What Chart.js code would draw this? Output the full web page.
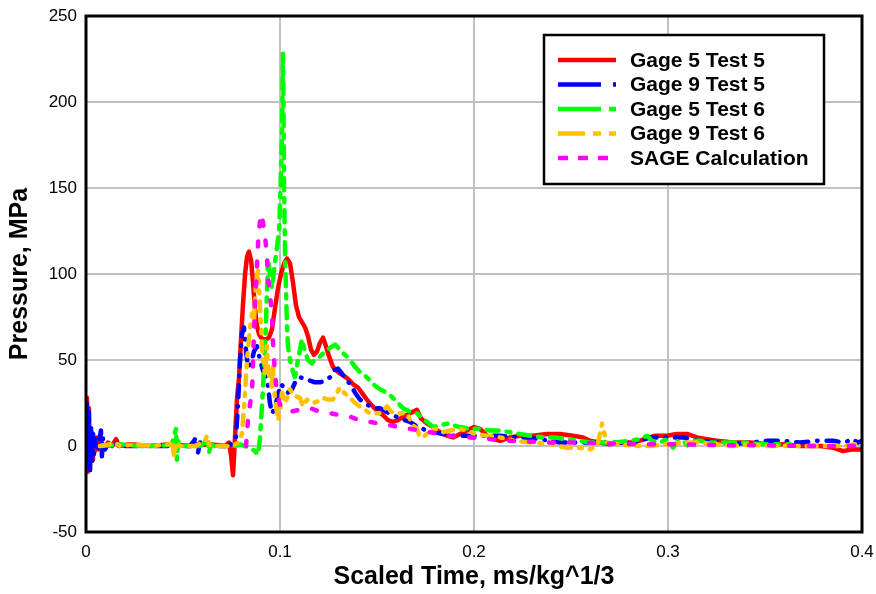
<!DOCTYPE html>
<html>
<head>
<meta charset="utf-8">
<script src="https://cdn.jsdelivr.net/npm/chart.js@4/dist/chart.umd.min.js"></script>
<style>
  html, body { margin: 0; padding: 0; background: #fff; }
  #c { display: block; }
</style>
</head>
<body>
<canvas id="c" width="876" height="594"></canvas>
<script>
// ---- Data (scaled time [ms/kg^1/3], pressure [MPa]) ----
const seriesLabels = ['Gage 5 Test 5', 'Gage 9 Test 5', 'Gage 5 Test 6', 'Gage 9 Test 6', 'SAGE Calculation'];
const xTickLabels = ['0', '0.1', '0.2', '0.3', '0.4'];
const yTickLabels = ['-50', '0', '50', '100', '150', '200', '250'];

const gage5Test5 = [
  [0.0003,0],[0.0005,28],[0.0010,-15],[0.0015,22],[0.0021,-12],[0.0026,10],[0.0031,-8],[0.0036,6],[0.0046,-3],
  [0.0057,5],[0.0067,-2],[0.0077,3],[0.0093,-1],[0.0113,2],[0.0134,0],[0.0155,4],[0.0170,0],[0.0227,1],[0.0330,0],
  [0.0433,1],[0.0536,0],[0.0639,1],[0.0716,0],[0.0737,2],[0.0747,-5],[0.0758,-17],[0.0768,5],[0.0778,27],[0.0789,40],
  [0.0799,62],[0.0809,82],[0.0820,100],[0.0830,110],[0.0840,113],[0.0851,108],[0.0861,95],[0.0871,80],[0.0881,70],
  [0.0892,65],[0.0902,63],[0.0912,62],[0.0928,62],[0.0943,63],[0.0959,68],[0.0974,80],[0.0990,92],[0.1005,100],
  [0.1021,106],[0.1036,109],[0.1052,106],[0.1067,95],[0.1082,82],[0.1098,75],[0.1113,72],[0.1129,69],[0.1144,64],
  [0.1160,56],[0.1175,53],[0.1191,55],[0.1206,60],[0.1222,63],[0.1237,58],[0.1253,52],[0.1273,46],[0.1299,43],
  [0.1325,41],[0.1351,39],[0.1376,36],[0.1402,34],[0.1428,30],[0.1454,26],[0.1479,23],[0.1505,20],[0.1531,18],
  [0.1557,15],[0.1582,14],[0.1608,15],[0.1634,17],[0.1670,19],[0.1706,21],[0.1727,16],[0.1758,13],[0.1789,11],
  [0.1825,8],[0.1861,6],[0.1892,5],[0.1928,7],[0.1964,9],[0.2000,11],[0.2031,10],[0.2067,6],[0.2098,4],[0.2134,3],
  [0.2186,5],[0.2237,6],[0.2304,6],[0.2376,7],[0.2443,7],[0.2510,6],[0.2562,5],[0.2598,3],[0.2649,2],[0.2701,1],
  [0.2753,2],[0.2820,2],[0.2881,4],[0.2933,6],[0.2995,6],[0.3046,7],[0.3098,7],[0.3149,5],[0.3201,4],[0.3253,3],
  [0.3335,2],[0.3423,2],[0.3510,1],[0.3593,1],[0.3680,0],[0.3784,0],[0.3851,-1],[0.3902,-3],[0.3948,-2],[0.3995,-2]
];

const gage9Test5 = [
  [0.0003,0],[0.0005,25],[0.0010,-13],[0.0015,20],[0.0021,-14],[0.0026,12],[0.0031,-9],[0.0036,8],[0.0041,-5],
  [0.0046,4],[0.0057,-3],[0.0067,2],[0.0077,9],[0.0082,-6],[0.0088,5],[0.0098,-2],[0.0113,1],[0.0134,0],[0.0149,2],
  [0.0175,0],[0.0330,0],[0.0536,0],[0.0557,3],[0.0567,5],[0.0577,-4],[0.0588,2],[0.0603,0],[0.0716,0],[0.0747,1],
  [0.0773,5],[0.0784,25],[0.0794,50],[0.0804,65],[0.0814,69],[0.0825,55],[0.0835,46],[0.0851,48],[0.0866,55],
  [0.0881,58],[0.0897,50],[0.0912,44],[0.0928,40],[0.0938,35],[0.0948,25],[0.0959,19],[0.0974,22],[0.0990,30],
  [0.1005,36],[0.1021,34],[0.1041,31],[0.1062,33],[0.1082,38],[0.1103,40],[0.1129,39],[0.1155,38],[0.1180,37],
  [0.1206,37],[0.1232,38],[0.1258,40],[0.1278,44],[0.1299,45],[0.1320,42],[0.1340,39],[0.1361,36],[0.1387,31],
  [0.1412,27],[0.1438,25],[0.1464,23],[0.1490,22],[0.1515,22],[0.1546,20],[0.1582,18],[0.1619,16],[0.1670,14],
  [0.1711,11],[0.1758,9],[0.1799,8],[0.1840,7],[0.1876,6],[0.1954,6],[0.2031,6],[0.2134,6],[0.2237,5],[0.2340,4],
  [0.2443,2],[0.2546,2],[0.2649,2],[0.2753,2],[0.2820,2],[0.2907,5],[0.2995,5],[0.3077,5],[0.3165,3],[0.3253,2],
  [0.3335,1],[0.3423,2],[0.3510,3],[0.3593,3],[0.3680,2],[0.3768,3],[0.3851,3],[0.3912,2],[0.3948,4],[0.3979,2],
  [0.4000,3]
];

const gage5Test6 = [
  [0.0072,0],[0.0175,1],[0.0278,0],[0.0381,0],[0.0443,1],[0.0454,6],[0.0464,10],[0.0469,-8],[0.0474,3],[0.0485,0],
  [0.0588,0],[0.0613,2],[0.0624,5],[0.0634,-4],[0.0644,1],[0.0665,0],[0.0768,0],[0.0794,1],[0.0820,0],[0.0845,-1],
  [0.0871,-3],[0.0887,-5],[0.0897,5],[0.0907,23],[0.0918,45],[0.0928,73],[0.0938,108],[0.0948,100],[0.0959,92],
  [0.0969,102],[0.0985,116],[0.0995,125],[0.1000,140],[0.1005,160],[0.1010,180],[0.1013,205],[0.1015,228],
  [0.1018,200],[0.1021,150],[0.1026,112],[0.1031,90],[0.1036,70],[0.1041,58],[0.1052,50],[0.1062,45],[0.1077,40],
  [0.1093,50],[0.1113,62],[0.1129,55],[0.1144,50],[0.1165,48],[0.1186,51],[0.1206,52],[0.1232,55],[0.1258,57],
  [0.1284,59],[0.1309,56],[0.1335,53],[0.1361,50],[0.1387,46],[0.1412,43],[0.1438,41],[0.1464,38],[0.1490,35],
  [0.1515,33],[0.1552,31],[0.1582,28],[0.1608,25],[0.1634,22],[0.1670,20],[0.1706,19],[0.1747,15],[0.1789,11],
  [0.1825,12],[0.1861,13],[0.1892,12],[0.1928,11],[0.1979,10],[0.2031,10],[0.2082,9],[0.2134,9],[0.2186,8],
  [0.2237,7],[0.2289,6],[0.2356,5],[0.2418,5],[0.2479,4],[0.2546,3],[0.2598,2],[0.2649,2],[0.2727,2],[0.2804,3],
  [0.2856,4],[0.2892,6],[0.2918,3],[0.2959,2],[0.2995,4],[0.3026,-1],[0.3052,3],[0.3077,3],[0.3113,-1],[0.3139,3],
  [0.3165,3],[0.3216,2],[0.3268,2],[0.3335,2],[0.3397,2],[0.3474,1],[0.3552,1],[0.3629,1]
];

const gage9Test6 = [
  [0.0072,0],[0.0124,1],[0.0149,2],[0.0175,0],[0.0253,1],[0.0330,0],[0.0433,1],[0.0443,3],[0.0454,-6],[0.0464,2],
  [0.0485,0],[0.0562,0],[0.0613,3],[0.0624,6],[0.0634,1],[0.0649,0],[0.0716,0],[0.0753,0],[0.0784,2],[0.0804,7],
  [0.0820,31],[0.0830,50],[0.0845,68],[0.0856,77],[0.0866,73],[0.0876,95],[0.0887,102],[0.0897,81],[0.0907,58],
  [0.0912,50],[0.0923,42],[0.0933,58],[0.0938,46],[0.0948,38],[0.0959,34],[0.0964,46],[0.0974,27],[0.0990,15],
  [0.1000,20],[0.1010,31],[0.1026,25],[0.1041,29],[0.1052,33],[0.1067,30],[0.1082,29],[0.1103,28],[0.1119,23],
  [0.1139,27],[0.1170,25],[0.1196,26],[0.1222,28],[0.1247,27],[0.1273,27],[0.1294,31],[0.1309,34],[0.1330,31],
  [0.1361,28],[0.1387,25],[0.1412,23],[0.1438,21],[0.1464,19],[0.1490,19],[0.1515,19],[0.1536,21],[0.1552,23],
  [0.1572,20],[0.1593,19],[0.1619,19],[0.1655,19],[0.1686,12],[0.1706,10],[0.1722,5],[0.1747,6],[0.1773,9],
  [0.1809,10],[0.1840,8],[0.1876,9],[0.1928,10],[0.1964,9],[0.2005,7],[0.2067,6],[0.2134,5],[0.2211,3],[0.2304,2],
  [0.2392,1],[0.2479,-1],[0.2546,-1],[0.2598,-2],[0.2634,0],[0.2649,7],[0.2660,13],[0.2670,8],[0.2686,2],[0.2753,1],
  [0.2820,0],[0.2907,0],[0.2995,1],[0.3077,2],[0.3165,2],[0.3253,1],[0.3335,0],[0.3423,1],[0.3510,0],[0.3593,0],
  [0.3680,0],[0.3768,0],[0.3851,0],[0.3912,0],[0.3964,1]
];

const sageCalculation = [
  [0.0825,0],[0.0835,15],[0.0845,24],[0.0856,31],[0.0861,50],[0.0871,81],[0.0881,104],[0.0887,118],[0.0897,131],
  [0.0905,135],[0.0912,130],[0.0923,122],[0.0933,110],[0.0938,98],[0.0948,89],[0.0959,75],[0.0964,60],[0.0974,42],
  [0.0985,31],[0.1000,24],[0.1026,21],[0.1052,20],[0.1103,21],[0.1155,22],[0.1206,20],[0.1258,19],[0.1309,18],
  [0.1361,17],[0.1412,15],[0.1464,14],[0.1515,13],[0.1567,12],[0.1619,11],[0.1670,10],[0.1722,9],[0.1773,8],
  [0.1876,6],[0.1979,5],[0.2082,4],[0.2186,3],[0.2289,2.5],[0.2392,2],[0.2546,2],[0.2701,1.5],[0.2856,1],
  [0.3062,1],[0.3268,0.5],[0.3474,0.5],[0.3680,0],[0.3887,0],[0.3990,0]
];

// ---- Styles ----
const seriesColors = ['#ff0000', '#0000ff', '#00ff00', '#ffc000', '#ff00ff'];
const lineDashes = [[], [12, 9, 0.5, 9], [12, 8, 4, 8], [10, 8, 3, 8, 3, 8], [5, 15]];
const legendDashes = [[], [43, 12, 4, 100], [43, 8, 8, 100], [27, 8, 8, 8, 8, 100], [10, 10]];
const FONT = '"Liberation Sans", Arial, Helvetica, sans-serif';

const allSeries = [gage5Test5, gage9Test5, gage5Test6, gage9Test6, sageCalculation];
const drawOrder = [4, 3, 2, 1, 0]; // lower order is drawn on top

const datasets = allSeries.map((s, i) => ({
  label: seriesLabels[i],
  data: s.map(p => ({ x: p[0], y: p[1] })),
  borderColor: seriesColors[i],
  backgroundColor: seriesColors[i],
  borderWidth: 4.5,
  borderDash: lineDashes[i],
  borderCapStyle: i === 0 ? 'butt' : 'round',
  borderJoinStyle: 'round',
  pointRadius: 0,
  pointHoverRadius: 0,
  tension: 0,
  fill: false,
  order: drawOrder[i]
}));

const framePlugin = {
  id: 'frame',
  afterDatasetsDraw(chart) {
    const { ctx, chartArea: a } = chart;
    ctx.save();
    ctx.strokeStyle = '#000';
    ctx.lineWidth = 3;
    ctx.setLineDash([]);
    ctx.strokeRect(a.left, a.top, a.right - a.left, a.bottom - a.top);
    ctx.restore();
  }
};

const boxLegendPlugin = {
  id: 'boxLegend',
  afterDraw(chart) {
    const { ctx, chartArea: a } = chart;
    const bx = a.right - 318, by = a.top + 19, bw = 280, bh = 149;
    ctx.save();
    ctx.fillStyle = '#fff';
    ctx.fillRect(bx, by, bw, bh);
    ctx.strokeStyle = '#000';
    ctx.lineWidth = 2.5;
    ctx.setLineDash([]);
    ctx.strokeRect(bx, by, bw, bh);
    seriesLabels.forEach((lab, i) => {
      const y = by + 25 + i * 24.5;
      ctx.beginPath();
      ctx.setLineDash(legendDashes[i]);
      ctx.strokeStyle = seriesColors[i];
      ctx.lineWidth = 4.5;
      ctx.lineCap = 'butt';
      ctx.moveTo(bx + 14, y);
      ctx.lineTo(bx + 72, y);
      ctx.stroke();
      ctx.setLineDash([]);
      ctx.fillStyle = '#000';
      ctx.font = 'bold 21px ' + FONT;
      ctx.textBaseline = 'middle';
      ctx.textAlign = 'left';
      ctx.fillText(lab, bx + 86, y + 1);
    });
    ctx.restore();
  }
};

Chart.defaults.font.family = FONT;
Chart.defaults.color = '#000';

new Chart(document.getElementById('c'), {
  type: 'line',
  data: { datasets },
  options: {
    responsive: false,
    animation: false,
    events: [],
    layout: { padding: { left: 0, top: 16, right: 14, bottom: 0 } },
    plugins: { legend: { display: false }, tooltip: { enabled: false } },
    scales: {
      x: {
        type: 'linear',
        min: 0, max: 0.4,
        afterFit(scale) { scale.height = 62; scale.paddingLeft = 0; scale.paddingRight = 0; },
        ticks: {
          stepSize: 0.1,
          padding: 10,
          maxRotation: 0,
          font: { size: 17 },
          color: '#000',
          callback: (v, i) => xTickLabels[i]
        },
        grid: { color: '#c0c0c0', lineWidth: 2, drawTicks: false },
        border: { display: false },
        title: {
          display: true,
          text: 'Scaled Time, ms/kg^1/3',
          font: { size: 25, weight: 'bold' },
          color: '#000',
          padding: { top: 0, bottom: 2 }
        }
      },
      y: {
        type: 'linear',
        min: -50, max: 250,
        afterFit(scale) { scale.width = 86; scale.paddingTop = 0; scale.paddingBottom = 0; },
        ticks: {
          stepSize: 50,
          padding: 9,
          font: { size: 17 },
          color: '#000',
          callback: (v, i) => yTickLabels[i]
        },
        grid: { color: '#c0c0c0', lineWidth: 2, drawTicks: false },
        border: { display: false },
        title: {
          display: true,
          text: 'Pressure, MPa',
          font: { size: 25, weight: 'bold' },
          color: '#000',
          padding: { top: 5, bottom: 0 }
        }
      }
    }
  },
  plugins: [framePlugin, boxLegendPlugin]
});
</script>
</body>
</html>
